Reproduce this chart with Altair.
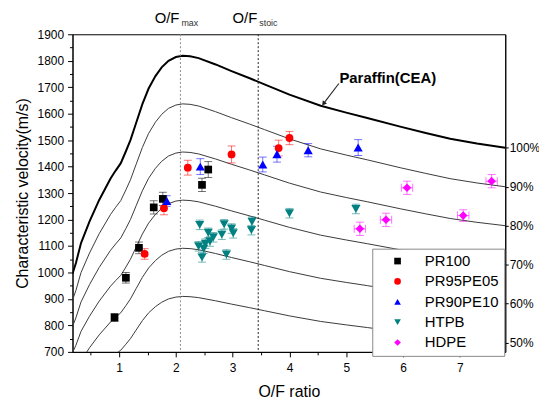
import altair as alt
import pandas as pd

# ---------------- data ----------------
# CEA theoretical c* of paraffin vs O/F
cea_of = [0.18, 0.24, 0.33, 0.48, 0.65, 0.85, 0.94, 1.03, 1.12, 1.20, 1.30, 1.41, 1.52, 1.64,
          1.75, 1.87, 2.00, 2.12, 2.25, 2.40, 2.70, 2.98, 3.30, 3.56, 4.00, 4.55, 5.00, 5.37,
          5.95, 6.40, 6.83, 7.30, 7.80]
cea_cstar = [995, 1036, 1111, 1193, 1274, 1355, 1385, 1413, 1458, 1500, 1565, 1636, 1695, 1742,
             1775, 1800, 1814, 1819, 1817, 1810, 1786, 1761, 1734, 1711, 1672, 1630, 1604, 1584,
             1551, 1527, 1505, 1487, 1471]
efficiencies = [90, 80, 70, 60, 50]
pct_labels = [100, 90, 80, 70, 60, 50]

series_names = ["PR100", "PR95PE05", "PR90PE10", "HTPB", "HDPE"]
series_colors = ["#000000", "#ff0000", "#0000ff", "#008080", "#ff00ff"]
series_shapes = ["square", "circle", "triangle-up", "triangle-down", "diamond"]
series_sizes = [60, 62, 85, 85, 75]

pr100_of = [0.92, 1.12, 1.35, 1.61, 1.77, 2.46, 2.57]
pr100_c = [830, 980, 1093, 1246, 1278, 1331, 1389]
pr100_err = [15, 20, 22, 25, 25, 25, 30]

pr95_of = [1.45, 1.79, 2.21, 2.98, 3.81, 4.00]
pr95_c = [1070, 1243, 1396, 1446, 1470, 1508]
pr95_err = [20, 25, 28, 32, 30, 25]

pr90_of = [1.84, 2.43, 3.53, 3.78, 4.33, 5.21]
pr90_c = [1270, 1400, 1408, 1447, 1462, 1472]
pr90_err = [20, 30, 28, 30, 25, 30]

htpb_of = [2.42, 2.57, 2.85, 2.98, 3.01, 2.81, 2.66, 2.60, 2.52, 2.40, 2.49, 2.46, 2.89,
           3.34, 3.33, 4.00, 5.17]
htpb_c = [1180, 1150, 1182, 1166, 1148, 1143, 1133, 1117, 1109, 1099, 1090, 1057, 1068,
          1192, 1160, 1224, 1240]
htpb_err = [18, 18, 18, 18, 18, 18, 18, 18, 18, 18, 18, 18, 18, 18, 18, 18, 18]

hdpe_of = [5.24, 5.70, 6.07, 7.06, 7.56]
hdpe_c = [1165, 1199, 1320, 1215, 1345]
hdpe_err = [25, 25, 25, 22, 25]
hdpe_xerr = [0.10, 0.10, 0.10, 0.10, 0.10]

of_lines = [2.08, 3.45]
of_line_colors = ["#8a8a8a", "#222222"]
of_main = ["O/F", "O/F"]
of_sub = ["max", "stoic"]

cea_label = "Paraffin(CEA)"
cea_label_pos = [4.88, 1734]
arrow_of = [4.87, 4.60]
arrow_c = [1714, 1638]

# ---------------- tables ----------------
cea_df = pd.DataFrame({"of": cea_of, "c": cea_cstar})
eff_rows = []
for e in efficiencies:
    for o, c in zip(cea_of, cea_cstar):
        eff_rows.append({"of": o, "c": c * e / 100.0, "eff": e})
eff_df = pd.DataFrame(eff_rows)

groups = [
    ("PR100", pr100_of, pr100_c, pr100_err, [0] * len(pr100_of)),
    ("PR95PE05", pr95_of, pr95_c, pr95_err, [0] * len(pr95_of)),
    ("PR90PE10", pr90_of, pr90_c, pr90_err, [0] * len(pr90_of)),
    ("HTPB", htpb_of, htpb_c, htpb_err, [0] * len(htpb_of)),
    ("HDPE", hdpe_of, hdpe_c, hdpe_err, hdpe_xerr),
]
col_map = dict(zip(series_names, series_colors))
size_map = dict(zip(series_names, series_sizes))
rows = []
for name, ofs, cs, es, xes in groups:
    for o, c, e, xe in zip(ofs, cs, es, xes):
        rows.append({"series": name, "of": o, "c": c, "lo": c - e, "hi": c + e,
                     "xlo": o - xe, "xhi": o + xe, "xerr": xe, "ecol": col_map[name],
                     "sz": size_map[name]})
pts = pd.DataFrame(rows)
caps = pd.concat([pts.assign(cy=pts["lo"]), pts.assign(cy=pts["hi"])])
hpts = pts[pts["xerr"] > 0]
hcaps = pd.concat([hpts.assign(cx=hpts["xlo"]), hpts.assign(cx=hpts["xhi"])])

vl_df = pd.DataFrame({"of": of_lines, "col": of_line_colors, "main": of_main, "sub": of_sub})
ann_df = pd.DataFrame({"of": [cea_label_pos[0]], "c": [cea_label_pos[1]], "t": [cea_label]})
arrow_df = pd.DataFrame({"ax": [arrow_of[0]], "ay": [arrow_c[0]],
                         "bx": [arrow_of[1]], "by": [arrow_c[1]]})

# ---------------- scales / axes ----------------
FONT = "Liberation Sans"
xscale = alt.Scale(domain=[0.18, 7.8], nice=False, zero=False)
yscale = alt.Scale(domain=[700, 1900], nice=False, zero=False)

x_axis = alt.Axis(
    title="O/F ratio",
    values=[0.5, 1, 1.5, 2, 2.5, 3, 3.5, 4, 4.5, 5, 5.5, 6, 6.5, 7, 7.5],
    labelExpr="datum.value % 1 === 0 ? format(datum.value, 'd') : ''",
    tickSize={"condition": {"test": "datum.value % 1 === 0", "value": 5}, "value": 3},
    labelPadding=6, titlePadding=10, grid=False,
)
y_left = alt.Axis(
    title="Characteristic velocity(m/s)",
    values=list(range(700, 1901, 50)),
    labelExpr="datum.value % 100 === 0 ? format(datum.value, 'd') : ''",
    tickSize={"condition": {"test": "datum.value % 100 === 0", "value": 5}, "value": 3},
    labelPadding=4, titlePadding=7, grid=False,
)
ref = cea_cstar[-1]
y_right = alt.Axis(
    title=None, orient="right",
    values=[ref * p / 100.0 for p in pct_labels],
    labelExpr=f"format(datum.value / {ref} * 100, '.0f') + '%'",
    tickSize=3, labelPadding=1, grid=False,
)


def X(field="of:Q"):
    return alt.X(field, scale=xscale, axis=x_axis)


def Y(field="c:Q"):
    return alt.Y(field, scale=yscale, axis=None)


eff_lines = alt.Chart(eff_df).mark_line(color="#3a3a3a", strokeWidth=1, clip=True).encode(
    x=X(), y=alt.Y("c:Q", scale=yscale, axis=y_left), detail="eff:N"
)
cea_line = alt.Chart(cea_df).mark_line(color="black", strokeWidth=2, clip=True).encode(
    x=X(), y=alt.Y("c:Q", scale=yscale, axis=y_right)
)
vlines = alt.Chart(vl_df).mark_rule(strokeDash=[2, 2], strokeWidth=1).encode(
    x=X(), stroke=alt.Stroke("col:N", scale=None)
)
top_main = alt.Chart(vl_df).mark_text(font=FONT, fontSize=15, align="right", baseline="alphabetic",
                                      dx=-1).encode(
    x=X(), y=alt.value(-11), text="main:N"
)
top_sub = alt.Chart(vl_df).mark_text(font=FONT, fontSize=9, align="left", baseline="alphabetic",
                                     dx=1, color="#333333").encode(
    x=X(), y=alt.value(-8), text="sub:N"
)
ebars = alt.Chart(pts).mark_rule(strokeWidth=1, opacity=0.55).encode(
    x=X(), y=Y("lo:Q"), y2="hi:Q", stroke=alt.Stroke("ecol:N", scale=None)
)
ecaps = alt.Chart(caps).mark_tick(orient="horizontal", size=8, thickness=1, opacity=0.55).encode(
    x=X(), y=Y("cy:Q"), fill=alt.Fill("ecol:N", scale=None)
)
hbars = alt.Chart(hpts).mark_rule(strokeWidth=1, opacity=0.55).encode(
    x=X("xlo:Q"), x2="xhi:Q", y=Y("c:Q"), stroke=alt.Stroke("ecol:N", scale=None)
)
hcapsl = alt.Chart(hcaps).mark_tick(orient="vertical", size=8, thickness=1, opacity=0.55).encode(
    x=X("cx:Q"), y=Y("c:Q"), fill=alt.Fill("ecol:N", scale=None)
)
points = alt.Chart(pts).mark_point(filled=True, opacity=1).encode(
    x=X(), y=Y(),
    color=alt.Color("series:N", scale=alt.Scale(domain=series_names, range=series_colors),
                    legend=alt.Legend(title=None, orient="none", legendX=302, legendY=216,
                                      padding=5, symbolOffset=13, symbolSize=45, labelFontSize=15,
                                      labelFont=FONT, labelOffset=20, rowPadding=4.5,
                                      strokeColor="#888888", fillColor="white",
                                      symbolStrokeWidth=0, labelColor="black")),
    shape=alt.Shape("series:N", scale=alt.Scale(domain=series_names, range=series_shapes)),
    size=alt.Size("sz:Q", scale=None),
)
arrow = alt.Chart(arrow_df).mark_rule(stroke="#222222", strokeWidth=1.1, opacity=1).encode(
    x=X("ax:Q"), y=Y("ay:Q"), x2="bx:Q", y2="by:Q"
)
head = alt.Chart(arrow_df).mark_point(shape="triangle-up", filled=True, fill="#222222", size=28,
                                      angle=217, opacity=1).encode(x=X("bx:Q"), y=Y("by:Q"))
ann = alt.Chart(ann_df).mark_text(font=FONT, fontSize=15, fontWeight="bold", align="left",
                                  baseline="middle").encode(x=X(), y=Y(), text="t:N")

chart = alt.layer(
    eff_lines, cea_line, vlines, top_main, top_sub, ebars, ecaps, hbars, hcapsl, points,
    ann, arrow, head
).resolve_axis(y="independent").properties(
    width=436, height=320,
    background="white",
    autosize=alt.AutoSizeParams(type="none"),
    padding={"left": 65, "top": 25, "right": 34, "bottom": 47},
).configure_view(stroke="black", strokeWidth=1).configure_axis(
    labelFont=FONT, labelFontSize=12, titleFont=FONT, titleFontSize=16, titleFontWeight="normal",
    domainColor="black", tickColor="black", labelColor="black", titleColor="black"
)

chart.save("out.html", embed_options={"renderer": "svg", "actions": False})
